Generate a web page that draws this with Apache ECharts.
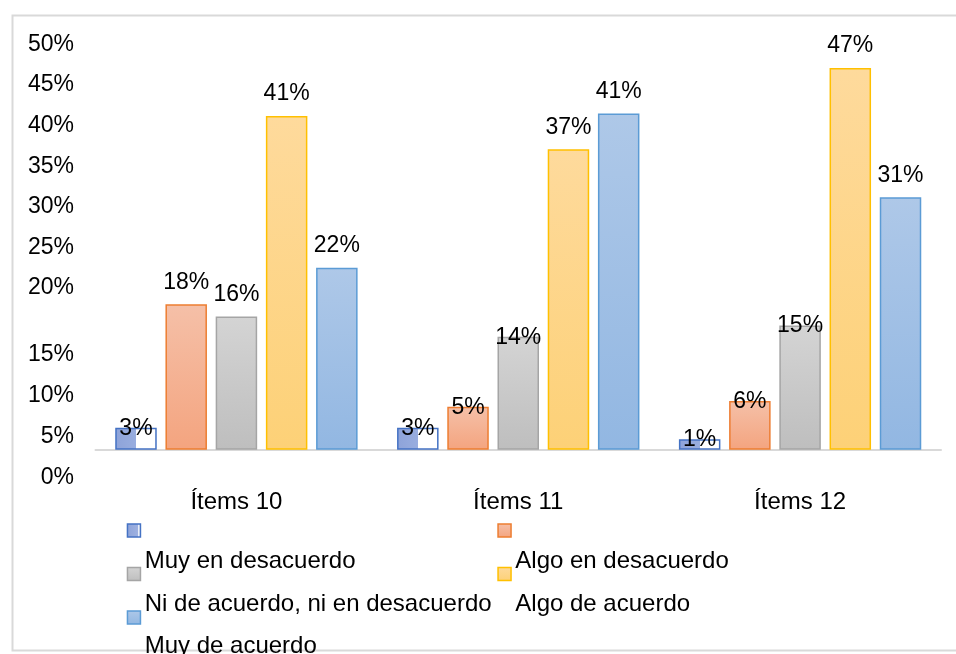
<!DOCTYPE html>
<html>
<head>
<meta charset="utf-8">
<script src="https://cdn.jsdelivr.net/npm/echarts@6/dist/echarts.min.js"></script>
<style>
html,body{margin:0;padding:0;background:#fff;}
#chart{width:956px;height:654px;}
</style>
</head>
<body>
<div id="chart"></div>
<script>
// ---- data ----
var categories = ['Ítems 10', 'Ítems 11', 'Ítems 12'];
var seriesNames = ['Muy en desacuerdo', 'Algo en desacuerdo', 'Ni de acuerdo, ni en desacuerdo', 'Algo de acuerdo', 'Muy de acuerdo'];
var muyEnDesacuerdo = [2.7, 2.7, 1.3];
var algoEnDesacuerdo = [17.9, 5.3, 6.0];
var niDeAcuerdo = [16.4, 13.9, 15.3];
var algoDeAcuerdo = [41.1, 37.0, 47.0];
var muyDeAcuerdo = [22.4, 41.4, 31.1];
var yTickLabels = ['50%', '45%', '40%', '35%', '30%', '25%', '20%', '15%', '10%', '5%', '0%'];
var yTickValues = [49.9, 44.9, 39.9, 34.9, 29.9, 24.9, 19.9, 11.7, 6.6, 1.6, -3.5];

// ---- styles ----
var FONT = '"Liberation Sans", Arial, sans-serif';
var TXT = '#000000';
function vgrad(top, bottom) {
  return new echarts.graphic.LinearGradient(0, 0, 0, 1, [
    {offset: 0, color: top}, {offset: 1, color: bottom}
  ]);
}
var fills = [
  new echarts.graphic.LinearGradient(0, 0, 1, 0, [
    {offset: 0, color: '#8ea3d9'}, {offset: 0.5, color: '#98addf'},
    {offset: 0.5, color: '#ffffff'}, {offset: 1, color: '#ffffff'}
  ]),
  vgrad('#f5c0a8', '#f4a47f'),
  vgrad('#d4d4d4', '#bebebe'),
  vgrad('#feda9c', '#fdd177'),
  vgrad('#aec8e8', '#92b7e2')
];
var iconFills = [
  new echarts.graphic.LinearGradient(0, 0, 1, 0, [
    {offset: 0, color: '#8ea3d9'}, {offset: 0.75, color: '#9db0e0'},
    {offset: 0.75, color: '#e8edf8'}, {offset: 1, color: '#e8edf8'}
  ]),
  fills[1], fills[2], fills[3], fills[4]
];
var borders = ['#4472c4', '#ed7d31', '#a5a5a5', '#ffc000', '#5b9bd5'];
var valuesList = [muyEnDesacuerdo, algoEnDesacuerdo, niDeAcuerdo, algoDeAcuerdo, muyDeAcuerdo];

var series = valuesList.map(function (vals, i) {
  return {
    name: seriesNames[i],
    type: 'bar',
    barWidth: 41.5,
    barGap: '21%',
    itemStyle: {color: fills[i], borderColor: borders[i], borderWidth: 1.5},
    data: vals.map(function (v) {
      // small bars: label sits over the bar top (as in the source rendering)
      return {value: v, label: {distance: v < 16 ? -12 : 10.5}};
    }),
    label: {
      show: true,
      position: 'top',
      color: TXT,
      fontFamily: FONT,
      fontSize: 23,
      formatter: function (p) { return Math.round(p.value) + '%'; }
    }
  };
});

function legendBlock(idxs, left, top, iconOnly) {
  return {
    orient: 'vertical',
    left: left,
    top: top,
    height: 300,
    width: 420,
    padding: 0,
    itemGap: iconOnly ? 19.5 : 18.5,
    itemWidth: 13,
    itemHeight: 13,
    icon: iconOnly ? 'rect' : 'none',
    data: idxs.map(function (i) {
      return iconOnly
        ? {name: seriesNames[i], itemStyle: {color: iconFills[i], borderColor: borders[i], borderWidth: 1.5}}
        : {name: seriesNames[i]};
    }),
    selectedMode: false,
    formatter: iconOnly ? function () { return ' '; } : '{name}',
    textStyle: {color: TXT, fontFamily: FONT, fontSize: 24, lineHeight: 23}
  };
}

var option = {
  backgroundColor: '#ffffff',
  animation: false,
  graphic: [{
    type: 'rect',
    left: 10, top: 13, z: -10, silent: true,
    shape: {width: 960, height: 635},
    style: {fill: 'none', stroke: '#d9d9d9', lineWidth: 2}
  }],
  grid: {left: 95.5, right: 15, top: 35.6, bottom: 171.8},
  legend: [
    legendBlock([0, 2, 4], 126.7, 518.5, true),
    legendBlock([1, 3], 497.3, 518.5, true),
    legendBlock([0, 2, 4], 126.7, 549.5, false),
    legendBlock([1, 3], 497.3, 549.5, false)
  ],
  xAxis: {
    type: 'category',
    data: categories,
    axisLine: {onZero: true, lineStyle: {color: '#d9d9d9', width: 2}},
    axisTick: {show: false},
    axisLabel: {margin: 8, color: TXT, fontFamily: FONT, fontSize: 24}
  },
  yAxis: {
    type: 'value',
    min: -4,
    max: 51,
    axisLine: {show: false},
    axisTick: {show: false},
    splitLine: {show: false},
    axisLabel: {
      customValues: yTickValues,
      margin: 21.5,
      color: TXT,
      fontFamily: FONT,
      fontSize: 23,
      formatter: function (v) {
        var idx = yTickValues.indexOf(v);
        return idx >= 0 ? yTickLabels[idx] : '';
      }
    }
  },
  series: series
};

var chart = echarts.init(document.getElementById('chart'), null, {renderer: 'canvas'});
chart.setOption(option);
</script>
</body>
</html>
